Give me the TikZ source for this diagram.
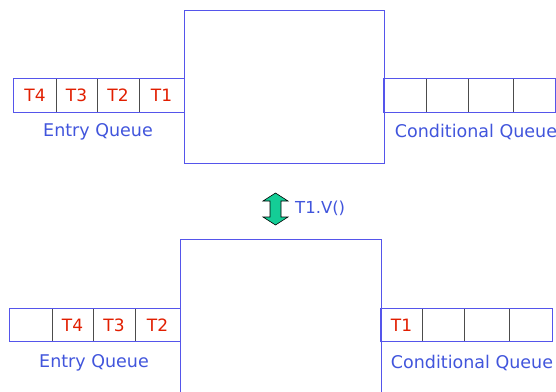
\documentclass[tikz,border=0pt]{standalone}
\usepackage{fontspec}
\setmainfont{DejaVu Sans}
\definecolor{boxblue}{RGB}{85,85,235}
\definecolor{txtblue}{RGB}{65,85,220}
\definecolor{tred}{RGB}{225,30,0}
\definecolor{arrgreen}{RGB}{20,205,150}
\begin{document}
\begin{tikzpicture}[x=1pt,y=-1pt,
  cell/.style={minimum height=33pt, inner sep=0pt, text=tred, font=\fontsize{17}{20}\selectfont},
  divider/.style={draw=black!70, line width=0.8pt},
  qframe/.style={draw=boxblue, line width=0.9pt},
  mon/.style={draw=boxblue, line width=0.9pt, inner sep=0pt},
  qlabel/.style={text=txtblue, font=\fontsize{17.5}{20}\selectfont, inner sep=0pt}]
\useasboundingbox (0,0) rectangle (556,391);
% top monitor
\node[mon, minimum width=200pt, minimum height=153pt] (m1) at (284,86.5) {};
\node[cell, minimum width=42pt] (a1) at (35,95.5) {T4};
\node[cell, minimum width=41pt] (a2) at (76.5,95.5) {T3};
\node[cell, minimum width=42pt] (a3) at (118,95.5) {T2};
\node[cell, minimum width=45pt] (a4) at (161.5,95.5) {T1};
\foreach \c in {a1,a2,a3} \draw[divider] (\c.north east) -- (\c.south east);
\draw[qframe] (a1.north west) rectangle (a4.south east);
\node[cell, minimum width=42pt] (b1) at (405,95.5) {};
\node[cell, minimum width=42pt] (b2) at (447,95.5) {};
\node[cell, minimum width=45pt] (b3) at (490.5,95.5) {};
\node[cell, minimum width=42pt] (b4) at (534,95.5) {};
\foreach \c in {b1,b2,b3} \draw[divider] (\c.north east) -- (\c.south east);
\draw[qframe] (b1.north west) rectangle (b4.south east);
\node[qlabel] (l1) at (98,132) {Entry Queue};
\node[qlabel] (l2) at (476,132) {Conditional Queue};
% arrow
\filldraw[fill=arrgreen, draw=black, line width=0.6pt] (275.5,193) -- (288,201) -- (281,201) -- (281,217) -- (288,217) -- (275.5,225) -- (263,217) -- (270,217) -- (270,201) -- (263,201) -- cycle;
\node[text=txtblue, font=\fontsize{16.5}{19}\selectfont, anchor=west, inner sep=0pt] (op) at (295,208) {T1.V()};
% bottom monitor
\node[mon, minimum width=201pt, minimum height=160pt] (m2) at (280.5,319) {};
\node[cell, minimum width=42pt] (c1) at (31,325) {};
\node[cell, minimum width=41pt] (c2) at (72.5,325) {T4};
\node[cell, minimum width=42pt] (c3) at (114,325) {T3};
\node[cell, minimum width=45pt] (c4) at (157.5,325) {T2};
\foreach \c in {c1,c2,c3} \draw[divider] (\c.north east) -- (\c.south east);
\draw[qframe] (c1.north west) rectangle (c4.south east);
\node[cell, minimum width=41pt] (d1) at (401.5,325) {T1};
\node[cell, minimum width=42pt] (d2) at (443,325) {};
\node[cell, minimum width=45pt] (d3) at (486.5,325) {};
\node[cell, minimum width=43pt] (d4) at (530.5,325) {};
\foreach \c in {d1,d2,d3} \draw[divider] (\c.north east) -- (\c.south east);
\draw[qframe] (d1.north west) rectangle (d4.south east);
\node[qlabel] (l3) at (94,363) {Entry Queue};
\node[qlabel] (l4) at (472,363) {Conditional Queue};
\end{tikzpicture}
\end{document}
